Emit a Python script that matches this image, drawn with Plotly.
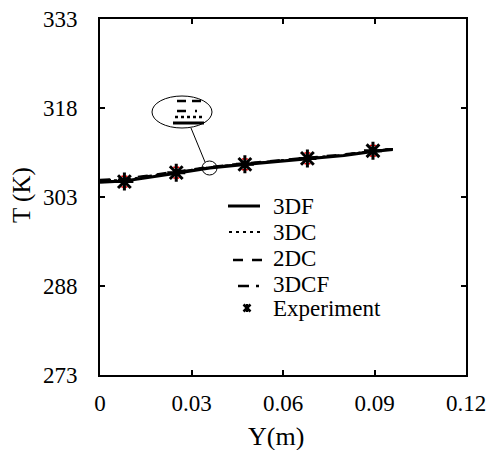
import plotly.graph_objects as go

# ---- data ----
y_exp = [0.008, 0.025, 0.0475, 0.068, 0.0895]
T_exp = [305.6, 307.1, 308.5, 309.5, 310.8]
T_err = [0.9, 0.9, 0.9, 0.9, 0.9]

y_sim = [0, 0.008, 0.025, 0.036, 0.0475, 0.068, 0.08, 0.0895, 0.096]
T_3DF = [305.5, 305.7, 307.0, 307.9, 308.5, 309.4, 310.0, 310.7, 311.0]
T_3DC = [305.7, 305.9, 307.2, 308.0, 308.6, 309.5, 310.1, 310.8, 311.1]
T_2DC = [305.9, 306.1, 307.3, 308.1, 308.7, 309.6, 310.2, 310.8, 311.1]
T_3DCF = [305.8, 306.0, 307.2, 308.0, 308.6, 309.5, 310.1, 310.8, 311.1]

series_names = ["3DF", "3DC", "2DC", "3DCF", "Experiment"]
x_ticks = [0, 0.03, 0.06, 0.09, 0.12]
x_ticklabels = ["0", "0.03", "0.06", "0.09", "0.12"]
y_ticks = [273, 288, 303, 318, 333]

FONT = "Liberation Serif, Times New Roman, serif"
DOT = "3px,4px"
DASH = "10px,9px"
DASHDOT = "11px,7px,3px,20px"

# plot area in pixels (for decorations only)
L, R, T, B = 100, 466, 19, 375

def px2x(p):
    return (p - L) / (R - L) * 0.12

def py2y(p):
    return 273 + (B - p) * 60.0 / (B - T)

def P(p):
    return (p - L) / (R - L)

def Q(p):
    return (B - p) / (B - T)

fig = go.Figure()
fig.add_trace(go.Scatter(x=y_sim, y=T_3DF, mode="lines", name=series_names[0],
                         line=dict(color="black", width=3.2), showlegend=False))
fig.add_trace(go.Scatter(x=y_sim, y=T_3DC, mode="lines", name=series_names[1],
                         line=dict(color="black", width=2, dash=DOT), showlegend=False))
fig.add_trace(go.Scatter(x=y_sim, y=T_2DC, mode="lines", name=series_names[2],
                         line=dict(color="black", width=2, dash=DASH), showlegend=False))
fig.add_trace(go.Scatter(x=y_sim, y=T_3DCF, mode="lines", name=series_names[3],
                         line=dict(color="black", width=2, dash=DASHDOT), showlegend=False))
fig.add_trace(go.Scatter(x=y_exp, y=T_exp, mode="markers", name=series_names[4],
                         showlegend=False,
                         marker=dict(symbol="asterisk-open", size=15, color="black",
                                     line=dict(color="black", width=3)),
                         error_y=dict(type="data", array=T_err, color="red",
                                      thickness=1.5, width=3)))

shapes = []
annotations = []

# ---- inset callout ----
shapes.append(dict(type="circle", xref="x", yref="y",
                   x0=px2x(152), x1=px2x(212), y0=py2y(128), y1=py2y(96),
                   line=dict(color="black", width=1)))
shapes.append(dict(type="circle", xref="x", yref="y",
                   x0=px2x(202), x1=px2x(217), y0=py2y(175), y1=py2y(161),
                   line=dict(color="black", width=1)))
shapes.append(dict(type="line", xref="x", yref="y",
                   x0=px2x(191), x1=px2x(205), y0=py2y(128), y1=py2y(162),
                   line=dict(color="black", width=1)))
shapes.append(dict(type="line", xref="x", yref="y",
                   x0=px2x(177), x1=px2x(202), y0=py2y(101), y1=py2y(101),
                   line=dict(color="black", width=2.5, dash="9px,6px")))
shapes.append(dict(type="line", xref="x", yref="y",
                   x0=px2x(177), x1=px2x(198), y0=py2y(111), y1=py2y(111),
                   line=dict(color="black", width=2.5, dash="9px,9px,2px,20px")))
shapes.append(dict(type="line", xref="x", yref="y",
                   x0=px2x(175), x1=px2x(205), y0=py2y(117), y1=py2y(117),
                   line=dict(color="black", width=2.5, dash="3px,3px")))
shapes.append(dict(type="line", xref="x", yref="y",
                   x0=px2x(173), x1=px2x(204), y0=py2y(123), y1=py2y(123),
                   line=dict(color="black", width=3)))

# ---- legend (drawn manually for tight row spacing) ----
rows = [206, 232, 258, 284, 308]
line_styles = [(3, None, 228, 260), (2.2, DOT, 229, 262), (2.5, DASH, 233, 264),
               (2.5, DASHDOT, 238, 259)]
for i, (w, d, a, b) in enumerate(line_styles):
    ln = dict(color="black", width=w)
    if d:
        ln["dash"] = d
    yy = rows[i] + (2 if i >= 2 else 0)
    shapes.append(dict(type="line", xref="paper", yref="paper",
                       x0=P(a), x1=P(b), y0=Q(yy), y1=Q(yy), line=ln))
# experiment legend symbol
cx, cy, s = 247, 308, 3.5
for (dx0, dy0, dx1, dy1) in [(-s, -s, s, s), (-s, s, s, -s), (0, -s - 0.5, 0, s + 0.5)]:
    shapes.append(dict(type="line", xref="paper", yref="paper",
                       x0=P(cx + dx0), y0=Q(cy + dy0), x1=P(cx + dx1), y1=Q(cy + dy1),
                       line=dict(color="black", width=2.5)))
for i, name in enumerate(series_names):
    annotations.append(dict(xref="paper", yref="paper", x=P(271), y=Q(rows[i]),
                            xanchor="left", yanchor="middle", showarrow=False,
                            text=name, font=dict(family=FONT, size=23, color="black")))

# ---- axis titles ----
annotations.append(dict(xref="paper", yref="paper", x=P(276), y=Q(436),
                        xanchor="center", yanchor="middle", showarrow=False,
                        text="Y(m)", font=dict(family=FONT, size=26, color="black")))
annotations.append(dict(xref="paper", yref="paper", x=P(22), y=Q(195),
                        xanchor="center", yanchor="middle", showarrow=False,
                        textangle=-90,
                        text="T (K)", font=dict(family=FONT, size=25, color="black")))

fig.update_layout(
    width=489, height=450,
    margin=dict(l=L, r=489 - R, t=T, b=450 - B),
    paper_bgcolor="white", plot_bgcolor="white",
    font=dict(family=FONT, size=23, color="black"),
    showlegend=False,
    shapes=shapes,
    annotations=annotations,
)
fig.update_xaxes(range=[0, 0.12], tickvals=x_ticks, ticktext=x_ticklabels,
                 automargin=False,
                 showgrid=False, zeroline=False, showline=True, linecolor="black",
                 linewidth=2, mirror="ticks", ticks="inside", ticklen=5,
                 tickwidth=2, tickcolor="black", ticklabelstandoff=6)
fig.update_yaxes(range=[273, 333], tickvals=y_ticks,
                 automargin=False,
                 showgrid=False, zeroline=False, showline=True, linecolor="black",
                 linewidth=2, mirror="ticks", ticks="inside", ticklen=5,
                 tickwidth=2, tickcolor="black", ticklabelstandoff=16)

fig.write_html("out.html")
